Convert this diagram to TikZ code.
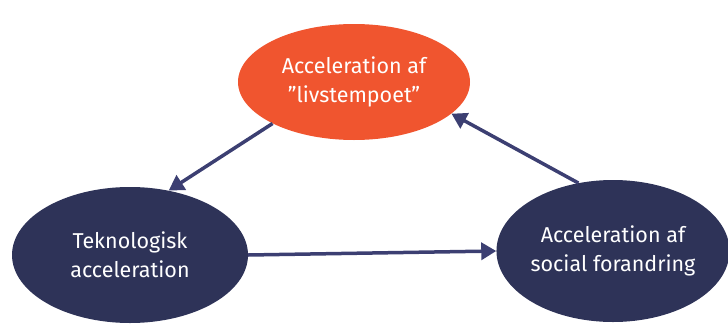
\documentclass[tikz,border=0pt]{standalone}
\usepackage{fontspec}
\setmainfont{Fira Sans}
\usetikzlibrary{shapes.geometric,arrows.meta}
\definecolor{tempoorange}{HTML}{F0552F}
\definecolor{accnavy}{HTML}{2E3358}
\definecolor{arrownavy}{HTML}{3C3F72}
\tikzset{
  blob/.style={ellipse, inner sep=0pt, text=white, align=center,
    font=\fontsize{21.5}{29}\selectfont},
  flow/.style={arrownavy, line width=3.5pt,
    -{Triangle[length=15pt,width=17pt]}}
}
\begin{document}
\begin{tikzpicture}[x=1pt,y=-1pt]
  \useasboundingbox (0,0) rectangle (728,324);
  \node [blob, fill=tempoorange, minimum width=232pt, minimum height=116pt] (tempo) at (354,82) {Acceleration af\\”livstempoet”};
  \node [blob, fill=accnavy, minimum width=236pt, minimum height=136pt] (tek) at (130,255) {Teknologisk\\acceleration};
  \node [blob, fill=accnavy, minimum width=226pt, minimum height=142pt] (social) at (613,251) {Acceleration af\\social forandring};
  \draw [flow] (tempo.207) -- (tek.59);
  \draw [flow] (tek.east) -- (social.west);
  \draw [flow] (social.117) -- (tempo.342);
\end{tikzpicture}
\end{document}
